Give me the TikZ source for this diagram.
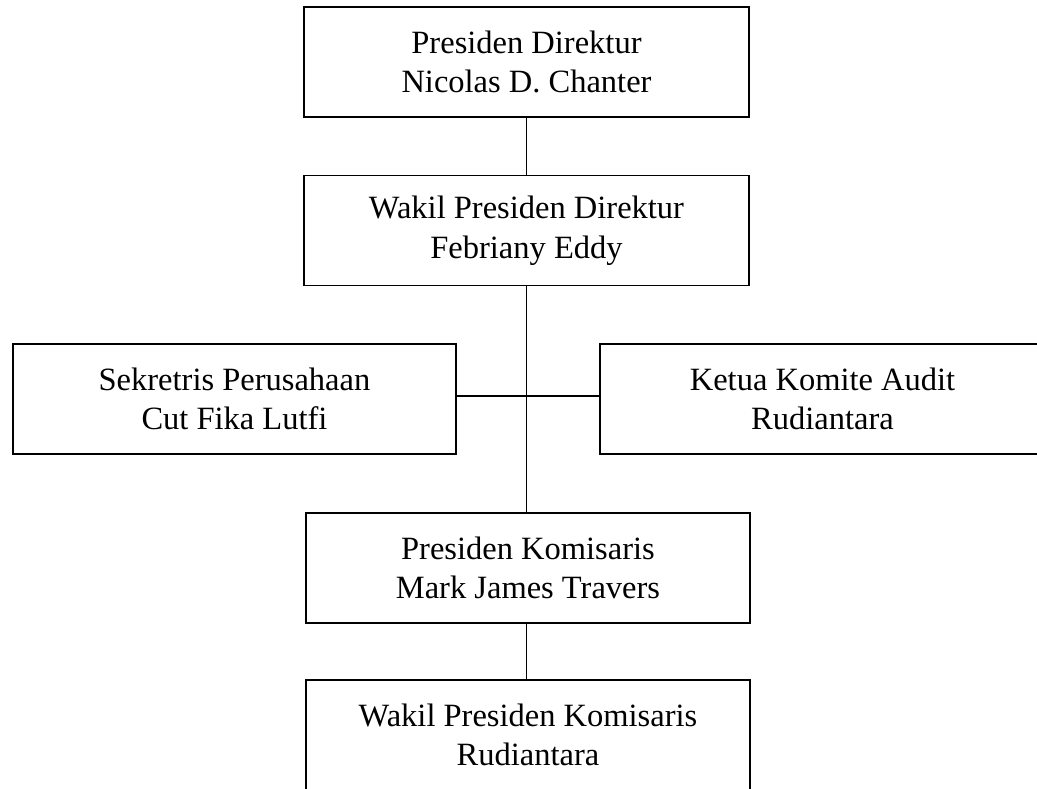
\documentclass[tikz,border=0pt]{standalone}
\usepackage{fontspec}
\setmainfont{Liberation Serif}
\begin{document}
\begin{tikzpicture}[x=1pt,y=-1pt,
  post/.style={draw=black, line width=1.8pt, minimum width=#1, minimum height=110pt,
    align=center, inner sep=0pt, font=\fontsize{32.5}{39.5}\selectfont},
  link/.style={line width=1.8pt}]
\path[use as bounding box] (0,0) rectangle (1037,788);
\begin{scope}
\clip (0,0) rectangle (1037,788);
% boxes of the chart
\node[post=445pt] (pd)  at (526.5,62)  {Presiden Direktur\\Nicolas D. Chanter};
\node[post=445pt] (wpd) at (526.5,230.5) {Wakil Presiden Direktur\\Febriany Eddy};
\node[post=443pt] (sek) at (234.5,399) {Sekretris Perusahaan\\Cut Fika Lutfi};
\node[post=445pt] (kom) at (822.5,399) {Ketua Komite Audit\\Rudiantara};
\node[post=444pt] (pk)  at (528,568)   {Presiden Komisaris\\Mark James Travers};
\node[post=444pt] (wpk) at (528,735)   {Wakil Presiden Komisaris\\Rudiantara};
% crossing point of the side branch
\coordinate (hub) at (526.5,396);
% connecting lines
\draw[link] (pd) -- (wpd);
\draw[link] (wpd.south) -- (wpd.south |- pk.north);
\draw[link] (hub -| sek.east) -- (hub -| kom.west);
\draw[link] (pk.south -| wpd.south) -- (wpk.north -| wpd.south);
\end{scope}
\end{tikzpicture}
\end{document}
